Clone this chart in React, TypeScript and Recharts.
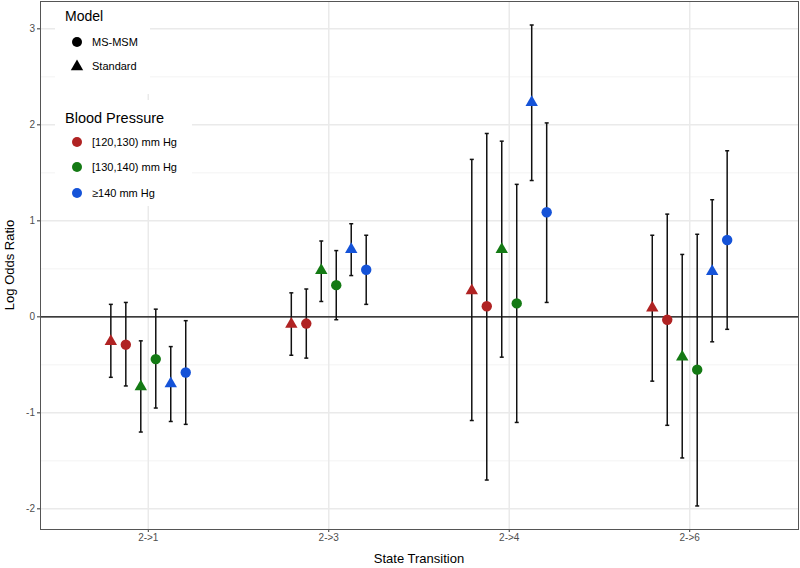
import React from "react";
import {
  CartesianGrid,
  ErrorBar,
  ReferenceLine,
  Scatter,
  ScatterChart,
  XAxis,
  YAxis,
} from "recharts";

const categories = ["2->1", "2->3", "2->4", "2->6"];
const yTicks = [-2, -1, 0, 1, 2, 3];
const yMinor = [-1.5, -0.5, 0.5, 1.5, 2.5];

// Standard model (triangles)
const std120Est = [-0.25, -0.07, 0.28, 0.1];
const std120Lo = [-0.63, -0.4, -1.08, -0.67];
const std120Hi = [0.13, 0.25, 1.64, 0.85];
const std130Est = [-0.72, 0.49, 0.71, -0.41];
const std130Lo = [-1.2, 0.16, -0.42, -1.47];
const std130Hi = [-0.25, 0.79, 1.83, 0.65];
const std140Est = [-0.69, 0.71, 2.24, 0.48];
const std140Lo = [-1.09, 0.43, 1.42, -0.26];
const std140Hi = [-0.31, 0.97, 3.04, 1.22];

// MS-MSM model (circles)
const ms120Est = [-0.29, -0.07, 0.11, -0.03];
const ms120Lo = [-0.72, -0.43, -1.7, -1.13];
const ms120Hi = [0.15, 0.29, 1.91, 1.07];
const ms130Est = [-0.44, 0.33, 0.14, -0.55];
const ms130Lo = [-0.95, -0.03, -1.1, -1.97];
const ms130Hi = [0.08, 0.69, 1.38, 0.86];
const ms140Est = [-0.58, 0.49, 1.09, 0.8];
const ms140Lo = [-1.12, 0.13, 0.15, -0.13];
const ms140Hi = [-0.04, 0.85, 2.02, 1.73];

const RED = "#B02323";
const GREEN = "#147A14";
const BLUE = "#1553D8";
const FONT = "'Liberation Sans', Arial, sans-serif";

const dodge = 0.083;

function build(est: number[], lo: number[], hi: number[], slot: number) {
  return est.map((v, i) => ({
    x: i + 1 + (slot - 2.5) * dodge,
    y: v,
    err: [v - lo[i], hi[i] - v],
  }));
}

const series = [
  { name: "std120", data: build(std120Est, std120Lo, std120Hi, 0), color: RED, tri: true },
  { name: "ms120", data: build(ms120Est, ms120Lo, ms120Hi, 1), color: RED, tri: false },
  { name: "std130", data: build(std130Est, std130Lo, std130Hi, 2), color: GREEN, tri: true },
  { name: "ms130", data: build(ms130Est, ms130Lo, ms130Hi, 3), color: GREEN, tri: false },
  { name: "std140", data: build(std140Est, std140Lo, std140Hi, 4), color: BLUE, tri: true },
  { name: "ms140", data: build(ms140Est, ms140Lo, ms140Hi, 5), color: BLUE, tri: false },
];

function Tri({ cx, cy, color }: { cx: number; cy: number; color: string }) {
  return (
    <polygon
      points={`${cx},${cy - 6.5} ${cx - 6.2},${cy + 4.2} ${cx + 6.2},${cy + 4.2}`}
      fill={color}
    />
  );
}

function Dot({ cx, cy, color }: { cx: number; cy: number; color: string }) {
  return <circle cx={cx} cy={cy} r={5.2} fill={color} />;
}

function Overlay() {
  const items = [
    { label: "[120,130) mm Hg", color: RED, y: 142 },
    { label: "[130,140) mm Hg", color: GREEN, y: 167 },
    { label: "\u2265140 mm Hg", color: BLUE, y: 193 },
  ];
  return (
    <svg
      width={800}
      height={568}
      style={{ position: "absolute", left: 0, top: 0, pointerEvents: "none" }}
      fontFamily={FONT}
    >
      <rect x={55} y={2} width={95} height={92} fill="#fff" />
      <text x={65} y={21} fontSize={14} fill="#000">Model</text>
      <circle cx={77} cy={42} r={5} fill="#000" />
      <text x={92} y={46} fontSize={11} fill="#000">MS-MSM</text>
      <Tri cx={77} cy={66} color="#000" />
      <text x={92} y={70} fontSize={11} fill="#000">Standard</text>

      <rect x={55} y={100} width={137} height={106} fill="#fff" />
      <text x={65} y={123} fontSize={14.5} fill="#000">Blood Pressure</text>
      {items.map((it) => (
        <g key={it.label}>
          <circle cx={77} cy={it.y} r={5} fill={it.color} />
          <text x={92} y={it.y + 4} fontSize={11} fill="#000">{it.label}</text>
        </g>
      ))}

      <text
        x={419}
        y={563}
        fontSize={13}
        textAnchor="middle"
        fill="#000"
      >
        State Transition
      </text>
      <text
        x={0}
        y={0}
        fontSize={13}
        textAnchor="middle"
        fill="#000"
        transform="translate(14,265) rotate(-90)"
      >
        Log Odds Ratio
      </text>
    </svg>
  );
}

export default function App() {
  return (
    <div style={{ position: "absolute", left: 0, top: 0, width: 800, height: 568, background: "#fff" }}>
      <ScatterChart
        width={800}
        height={568}
        margin={{ top: 1, right: 2, bottom: 0, left: 0 }}
      >
        <CartesianGrid
          horizontalValues={yMinor}
          vertical={false}
          stroke="#F3F3F3"
          strokeWidth={1}
        />
        <CartesianGrid
          horizontalValues={yTicks}
          verticalValues={[1, 2, 3, 4]}
          stroke="#EAEAEA"
          strokeWidth={1.5}
        />
        <XAxis
          type="number"
          dataKey="x"
          domain={[0.4, 4.6]}
          ticks={[1, 2, 3, 4]}
          tickFormatter={(v: number) => categories[v - 1]}
          allowDataOverflow
          height={39}
          axisLine={false}
          tickSize={3}
          tickLine={{ stroke: "#333" }}
          tick={{ fontSize: 10, fill: "#4D4D4D", fontFamily: FONT }}
        />
        <YAxis
          type="number"
          dataKey="y"
          domain={[-2.21, 3.29]}
          ticks={yTicks}
          allowDataOverflow
          width={40}
          axisLine={false}
          tickSize={3}
          tickLine={{ stroke: "#333" }}
          tick={{ fontSize: 10, fill: "#4D4D4D", fontFamily: FONT }}
        />
        <ReferenceLine y={0} stroke="#000" strokeWidth={1.4} />
        {series.map((s) => (
          <Scatter
            key={s.name}
            name={s.name}
            data={s.data}
            isAnimationActive={false}
            shape={(p: any) =>
              s.tri ? <Tri cx={p.cx} cy={p.cy} color={s.color} /> : <Dot cx={p.cx} cy={p.cy} color={s.color} />
            }
          >
            <ErrorBar
              dataKey="err"
              direction="y"
              width={2}
              stroke="#111"
              strokeWidth={1.5}
            />
          </Scatter>
        ))}
      </ScatterChart>
      <div
        style={{
          position: "absolute",
          left: 40,
          top: 1,
          width: 757,
          height: 527,
          border: "1px solid #555",
          pointerEvents: "none",
        }}
      />
      <Overlay />
    </div>
  );
}
